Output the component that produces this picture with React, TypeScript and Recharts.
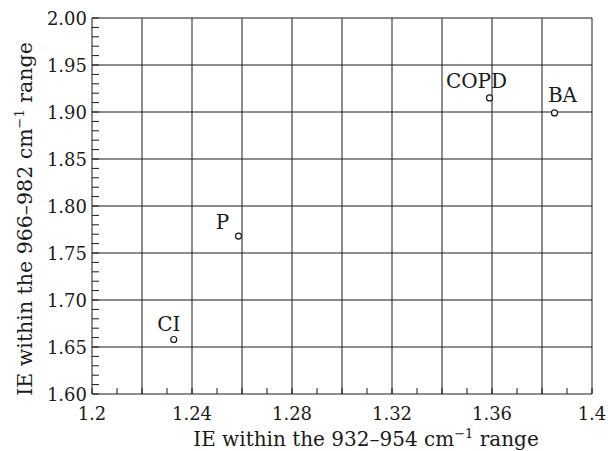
import React from "react";
import {
  ScatterChart,
  Scatter,
  XAxis,
  YAxis,
  ReferenceLine,
} from "recharts";

// Diagnosis groups and their IE values (x: 932-954 cm-1, y: 966-982 cm-1)
const groups = ["CI", "P", "COPD", "BA"];
const ieLow = [1.2327, 1.2586, 1.359, 1.385];
const ieHigh = [1.658, 1.768, 1.915, 1.899];

// tick labels
const xMajor = [1.2, 1.24, 1.28, 1.32, 1.36, 1.4];
const yMajor = [1.6, 1.65, 1.7, 1.75, 1.8, 1.85, 1.9, 1.95, 2.0];
const xGrid = [1.2, 1.22, 1.24, 1.26, 1.28, 1.3, 1.32, 1.34, 1.36, 1.38, 1.4];

const FONT = "'DejaVu Serif', 'Liberation Serif', serif";
const INK = "#1a1a1a";

// minor ticks every 0.01 on both axes
const xMinor: number[] = [];
for (let i = 0; i <= 20; i++) xMinor.push(Math.round((1.2 + i * 0.01) * 1000) / 1000);
const yMinor: number[] = [];
for (let i = 0; i <= 40; i++) yMinor.push(Math.round((1.6 + i * 0.01) * 1000) / 1000);

// where each point label sits relative to its marker
const labelOffset: Record<string, [number, number]> = {
  CI: [-5, -8],
  P: [-16, -7],
  COPD: [-13, -10],
  BA: [8, -11],
};

const data = groups.map((g, i) => ({ name: g, x: ieLow[i], y: ieHigh[i] }));

const fmtY = (v: number) => v.toFixed(2);

const XTick = (props: any) => {
  const { x, y, payload } = props;
  const v = payload.value;
  const isMajor = xMajor.some(m => Math.abs(m - v) < 1e-6);
  return (
    <g>
      <line x1={x} x2={x} y1={y} y2={y - 6} stroke={INK} strokeWidth={1} />
      {isMajor && (
        <text x={x} y={y + 26} textAnchor="middle" fontSize={18} fontFamily={FONT} fill={INK}>
          {String(v)}
        </text>
      )}
    </g>
  );
};

const YTick = (props: any) => {
  const { x, y, payload } = props;
  const v = payload.value;
  const isMajor = yMajor.some(m => Math.abs(m - v) < 1e-6);
  return (
    <g>
      <line x1={x} x2={x + 7} y1={y} y2={y} stroke={INK} strokeWidth={1} />
      {isMajor && (
        <text x={x - 5} y={y + 6.5} textAnchor="end" fontSize={18} fontFamily={FONT} fill={INK}>
          {fmtY(v)}
        </text>
      )}
    </g>
  );
};

const PointShape = (props: any) => {
  const { cx, cy, payload } = props;
  const off = labelOffset[payload.name] || [0, -8];
  return (
    <g>
      <circle cx={cx} cy={cy} r={3} fill="#fff" stroke={INK} strokeWidth={1.2} />
      <text
        x={cx + off[0]}
        y={cy + off[1]}
        textAnchor="middle"
        fontSize={20}
        fontFamily={FONT}
        fill={INK}
      >
        {payload.name}
      </text>
    </g>
  );
};

export default function App() {
  return (
    <div style={{ position: "absolute", left: 0, top: 0, width: 608, height: 451, background: "#fff" }}>
      <ScatterChart
        width={608}
        height={451}
        margin={{ top: 18, right: 16, bottom: 0, left: 0 }}
      >
        <XAxis
          type="number"
          dataKey="x"
          domain={[1.2, 1.4]}
          ticks={xMinor}
          interval={0}
          tickSize={0}
          tickMargin={0}
          axisLine={false}
          tickLine={false}
          tick={<XTick />}
          height={57}
          allowDataOverflow
        />
        <YAxis
          type="number"
          dataKey="y"
          domain={[1.6, 2.0]}
          ticks={yMinor}
          interval={0}
          tickSize={0}
          tickMargin={0}
          axisLine={false}
          tickLine={false}
          tick={<YTick />}
          width={92}
          allowDataOverflow
        />
        {xGrid.map(v => (
          <ReferenceLine key={"gx" + v} x={v} stroke={INK} strokeWidth={1} />
        ))}
        {yMajor.map(v => (
          <ReferenceLine key={"gy" + v} y={v} stroke={INK} strokeWidth={1} />
        ))}
        <Scatter data={data} shape={<PointShape />} isAnimationActive={false} />
      </ScatterChart>
      <svg
        width={608}
        height={451}
        style={{ position: "absolute", left: 0, top: 0, pointerEvents: "none" }}
      >
        <text x={366} y={446} textAnchor="middle" fontSize={20} fontFamily={FONT} fill={INK}>
          IE within the 932–954 cm
          <tspan fontSize={13} dy={-8}>−1</tspan>
          <tspan dy={8}> range</tspan>
        </text>
        <text
          transform="translate(32,219) rotate(-90)"
          x={0}
          y={0}
          textAnchor="middle"
          fontSize={20.5}
          fontFamily={FONT}
          fill={INK}
        >
          IE within the 966–982 cm
          <tspan fontSize={13} dy={-8}>−1</tspan>
          <tspan dy={8}> range</tspan>
        </text>
      </svg>
    </div>
  );
}
